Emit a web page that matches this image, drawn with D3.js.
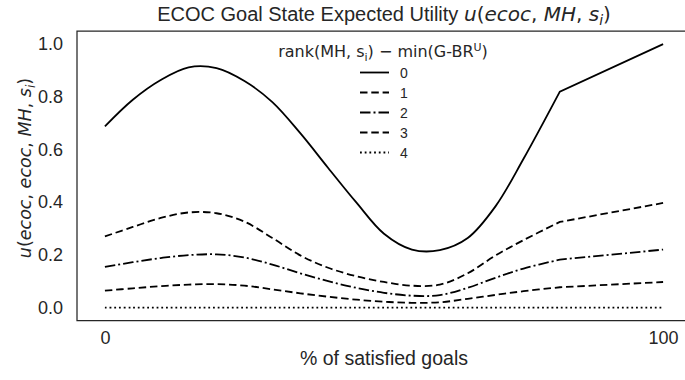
<!DOCTYPE html>
<html>
<head>
<meta charset="utf-8">
<script src="https://cdn.jsdelivr.net/npm/d3@7"></script>
<style>
  body { margin: 0; background: #fff; }
  svg { display: block; }
</style>
</head>
<body>
<svg id="chart" width="685" height="380"></svg>
<script>
// Share of satisfied goals (%) at which each utility curve is sampled
const goalPct = [0, 5, 10, 15, 20, 25, 30, 35, 40, 45, 50, 55, 60, 65, 70, 75, 81.5, 100];

// Expected utility of the ECOC goal state, one array per rank difference
const rank0 = [0.688, 0.789, 0.864, 0.912, 0.909, 0.860, 0.780, 0.662, 0.530, 0.400, 0.280, 0.220, 0.218, 0.264, 0.385, 0.565, 0.820, 1.000];
const rank1 = [0.270, 0.306, 0.340, 0.361, 0.358, 0.326, 0.264, 0.198, 0.151, 0.119, 0.097, 0.083, 0.087, 0.130, 0.198, 0.256, 0.325, 0.397];
const rank2 = [0.154, 0.172, 0.188, 0.199, 0.202, 0.190, 0.163, 0.130, 0.100, 0.075, 0.056, 0.045, 0.047, 0.075, 0.113, 0.148, 0.182, 0.220];
const rank3 = [0.064, 0.073, 0.081, 0.087, 0.089, 0.083, 0.069, 0.054, 0.041, 0.030, 0.022, 0.018, 0.020, 0.033, 0.048, 0.062, 0.077, 0.097];
const rank4 = [0, 0, 0, 0, 0, 0, 0, 0, 0, 0, 0, 0, 0, 0, 0, 0, 0, 0];

const rankLabels = ["0", "1", "2", "3", "4"];
const yTicks = [0, 0.2, 0.4, 0.6, 0.8, 1.0];
const xTicks = [0, 100];

const seriesValues = [rank0, rank1, rank2, rank3, rank4];
const dashes = [null, "7.5,3.8", "10.5,3,2,3", "7.5,3.8", "1.8,2.9"];

const ink = "#262626";
const sansFont = "'Liberation Sans', Arial, sans-serif";
const mathFont = "'DejaVu Sans', sans-serif";
const svg = d3.select("#chart");

const plotLeft = 77, plotRight = 691, plotTop = 31, plotBottom = 320.7;
const x = d3.scaleLinear().domain([-5, 105]).range([plotLeft, plotRight]);
const y = d3.scaleLinear().domain([-0.05, 1.05]).range([plotBottom, plotTop]);

// Y axis tick labels
const yAxis = svg.append("g")
  .attr("transform", `translate(${plotLeft},0)`)
  .call(d3.axisLeft(y).tickValues(yTicks).tickSize(0).tickPadding(14).tickFormat(d3.format(".1f")));
yAxis.select(".domain").remove();
yAxis.selectAll("text")
  .attr("fill", ink)
  .style("font-family", sansFont)
  .style("font-size", "18px");

// X axis tick labels
const xAxis = svg.append("g")
  .attr("transform", `translate(0,${plotBottom})`)
  .call(d3.axisBottom(x).tickValues(xTicks).tickSize(0).tickPadding(11).tickFormat(d3.format("d")));
xAxis.select(".domain").remove();
xAxis.selectAll("text")
  .attr("fill", ink)
  .style("font-family", sansFont)
  .style("font-size", "18px");

// Curves: smooth up to the kink, straight from the kink to 100 %
const smooth = d3.line()
  .x(d => x(d[0]))
  .y(d => y(d[1]))
  .curve(d3.curveCatmullRom.alpha(0.5));

const curves = svg.append("g");
seriesValues.forEach((vals, i) => {
  const pts = goalPct.map((g, k) => [g, vals[k]]);
  const head = pts.slice(0, pts.length - 1);
  const last = pts[pts.length - 1];
  const d = smooth(head) + `L${x(last[0])},${y(last[1])}`;
  curves.append("path")
    .attr("d", d)
    .attr("fill", "none")
    .attr("stroke", "#000")
    .attr("stroke-width", 1.8)
    .attr("stroke-dasharray", dashes[i]);
});

// Axes frame (left, top and bottom spines)
svg.append("path")
  .attr("d", `M${plotRight + 5},${plotTop}H${plotLeft}V${plotBottom}H${plotRight + 5}`)
  .attr("fill", "none")
  .attr("stroke", ink)
  .attr("stroke-width", 1.25);

function mathParts(sel, parts) {
  parts.forEach(p => {
    const t = sel.append("tspan").style("font-family", mathFont);
    if (p.it) t.style("font-style", "italic");
    if (p.dy) t.attr("dy", p.dy);
    if (p.size) t.style("font-size", p.size);
    t.text(p.t);
  });
}

// Title with math part
const title = svg.append("text")
  .attr("x", (plotLeft + plotRight) / 2)
  .attr("y", 21)
  .attr("text-anchor", "middle")
  .attr("fill", ink)
  .style("font-size", "20px");
title.append("tspan").style("font-family", sansFont).text("ECOC Goal State Expected Utility ");
mathParts(title, [
  { t: "u", it: true }, { t: "(" }, { t: "ecoc", it: true }, { t: ", " },
  { t: "MH", it: true }, { t: ", " }, { t: "s", it: true },
  { t: "i", it: true, dy: 4, size: "14px" },
  { t: ")", dy: -4 }
]);

// Y axis label
const ylab = svg.append("text")
  .attr("transform", `translate(31,168) rotate(-90)`)
  .attr("text-anchor", "middle")
  .attr("fill", ink)
  .style("font-size", "17.5px");
mathParts(ylab, [
  { t: "u", it: true }, { t: "(" }, { t: "ecoc", it: true }, { t: ", " },
  { t: "ecoc", it: true }, { t: ", " }, { t: "MH", it: true }, { t: ", " },
  { t: "s", it: true }, { t: "i", it: true, dy: 3.5, size: "12px" },
  { t: ")", dy: -3.5 }
]);

// X axis label
svg.append("text")
  .attr("x", (plotLeft + plotRight) / 2)
  .attr("y", 365)
  .attr("text-anchor", "middle")
  .attr("fill", ink)
  .style("font-family", sansFont)
  .style("font-size", "19.5px")
  .text("% of satisfied goals");

// Legend
const legend = svg.append("g");
const ltitle = legend.append("text")
  .attr("x", 383)
  .attr("y", 57)
  .attr("text-anchor", "middle")
  .attr("fill", ink)
  .style("font-family", mathFont)
  .style("font-size", "16px");
ltitle.append("tspan").text("rank(MH, s");
ltitle.append("tspan").attr("dy", 3.5).style("font-size", "11px").text("i");
ltitle.append("tspan").attr("dy", -3.5).text(") \u2212 min(G-BR");
ltitle.append("tspan").attr("dy", -6).style("font-size", "11px").text("U");
ltitle.append("tspan").attr("dy", 6).text(")");

rankLabels.forEach((lab, i) => {
  const ly = 72.5 + i * 20;
  legend.append("line")
    .attr("x1", 360).attr("x2", 389)
    .attr("y1", ly).attr("y2", ly)
    .attr("stroke", "#000")
    .attr("stroke-width", 1.8)
    .attr("stroke-dasharray", dashes[i]);
  legend.append("text")
    .attr("x", 400)
    .attr("y", ly)
    .attr("dy", "0.36em")
    .attr("fill", ink)
    .style("font-family", sansFont)
    .style("font-size", "14px")
    .text(lab);
});
</script>
</body>
</html>
